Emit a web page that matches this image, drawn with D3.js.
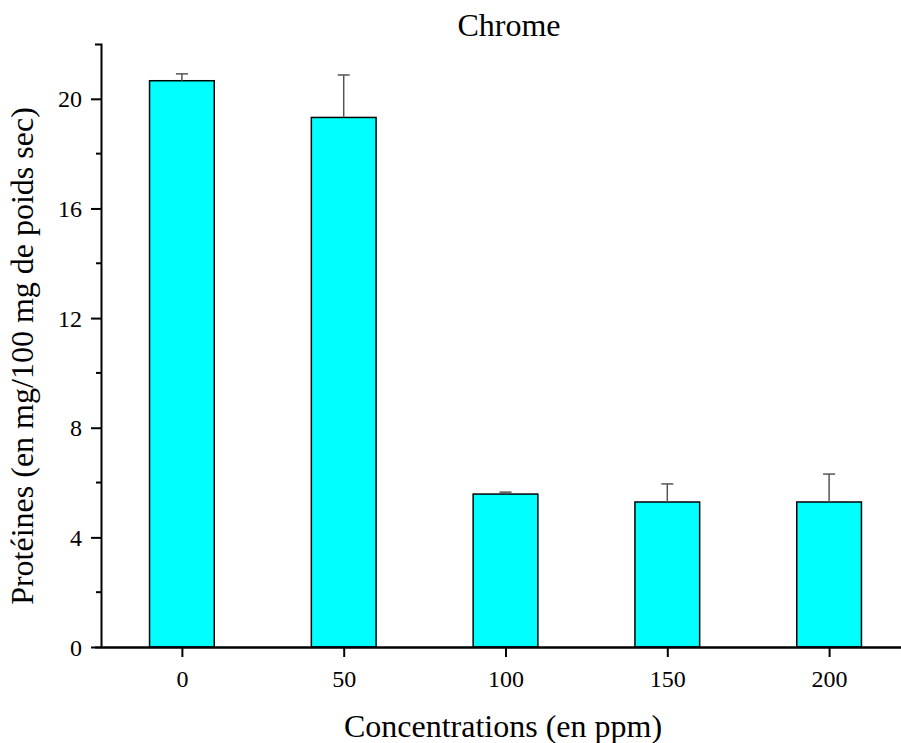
<!DOCTYPE html>
<html>
<head>
<meta charset="utf-8">
<script src="https://cdn.jsdelivr.net/npm/d3@7"></script>
<style>
  body { margin: 0; background: #fff; }
</style>
</head>
<body>
<div id="chart"></div>
<script>
const concentrations = ["0", "50", "100", "150", "200"];
const proteines = [20.66, 19.32, 5.58, 5.29, 5.29];
const erreurs = [0.25, 1.55, 0.07, 0.66, 1.02];
const yTicks = [0, 4, 8, 12, 16, 20];
const yMinorTicks = [2, 6, 10, 14, 18];

const serif = "Liberation Serif, Tinos, DejaVu Serif, serif";
const width = 901, height = 743;
const plotLeft = 101, plotBottom = 647, plotTop = 44;

const svg = d3.select("#chart").append("svg")
  .attr("width", width)
  .attr("height", height)
  .style("font-family", serif);

const x = d3.scalePoint()
  .domain(concentrations)
  .range([plotLeft, 910])
  .padding(0.5);
const barWidth = x.step() * 0.4;

const y = d3.scaleLinear()
  .domain([0, 22])
  .range([plotBottom, plotTop]);

// bars
svg.append("g").selectAll("rect")
  .data(concentrations)
  .join("rect")
  .attr("x", (d) => x(d) - barWidth / 2)
  .attr("y", (d, i) => y(proteines[i]))
  .attr("width", barWidth)
  .attr("height", (d, i) => y(0) - y(proteines[i]))
  .attr("fill", "#00ffff")
  .attr("stroke", "#000")
  .attr("stroke-width", 1.5);

// error bars (upper only)
const err = svg.append("g").attr("stroke", "#555").attr("stroke-width", 1.5);
concentrations.forEach((c, i) => {
  const cx = x(c);
  err.append("line")
    .attr("x1", cx).attr("x2", cx)
    .attr("y1", y(proteines[i])).attr("y2", y(proteines[i] + erreurs[i]));
  err.append("line")
    .attr("x1", cx - 6).attr("x2", cx + 6)
    .attr("y1", y(proteines[i] + erreurs[i])).attr("y2", y(proteines[i] + erreurs[i]));
});

// y axis
const yAxis = svg.append("g")
  .attr("transform", `translate(${plotLeft},0)`)
  .call(d3.axisLeft(y).tickValues(yTicks).tickSize(10).tickSizeOuter(6).tickPadding(9));
yAxis.attr("font-family", null);
yAxis.select(".domain").attr("stroke-width", 2);
yAxis.selectAll(".tick line").attr("stroke-width", 2);
yAxis.selectAll("text")
  .style("font-family", serif)
  .style("font-size", "24px")
  .attr("dy", "0.34em");
yAxis.selectAll(".minor")
  .data(yMinorTicks)
  .join("line")
  .attr("class", "minor")
  .attr("x1", -5).attr("x2", 0)
  .attr("y1", (d) => y(d)).attr("y2", (d) => y(d))
  .attr("stroke", "#000")
  .attr("stroke-width", 2);

// x axis
const xAxis = svg.append("g")
  .attr("transform", `translate(0,${plotBottom})`)
  .call(d3.axisBottom(x).tickSize(10).tickSizeOuter(0).tickPadding(13));
xAxis.attr("font-family", null);
xAxis.select(".domain").attr("stroke-width", 2.5);
xAxis.selectAll(".tick line").attr("stroke-width", 2);
xAxis.selectAll("text")
  .style("font-family", serif)
  .style("font-size", "24px");

// titles
svg.append("text")
  .attr("x", 509).attr("y", 36)
  .attr("text-anchor", "middle")
  .style("font-family", serif)
  .style("font-size", "32px")
  .text("Chrome");

svg.append("text")
  .attr("x", 503).attr("y", 737)
  .attr("text-anchor", "middle")
  .style("font-family", serif)
  .style("font-size", "32px")
  .text("Concentrations (en ppm)");

svg.append("text")
  .attr("transform", "rotate(-90)")
  .attr("x", -356)
  .attr("y", 33)
  .attr("text-anchor", "middle")
  .style("font-family", serif)
  .style("font-size", "32px")
  .text("Protéines (en mg/100 mg de poids sec)");
</script>
</body>
</html>
